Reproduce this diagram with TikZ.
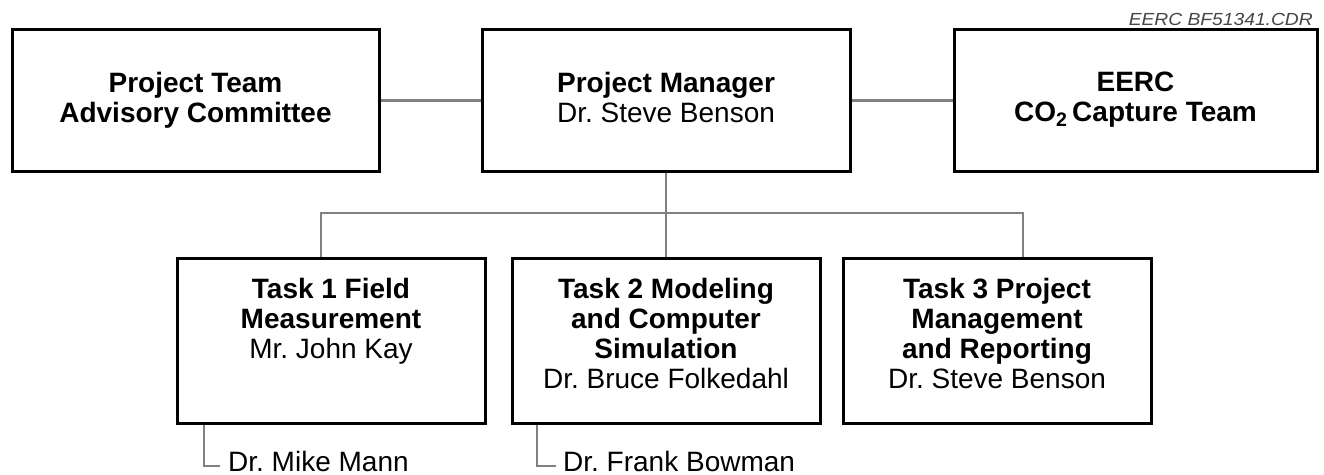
\documentclass[tikz,border=0pt]{standalone}
\usepackage{fontspec}
\setmainfont{Liberation Sans}
\usepackage{graphicx}
\usetikzlibrary{backgrounds}
\definecolor{conngray}{RGB}{128,128,128}
\definecolor{refgray}{RGB}{70,70,70}
\frenchspacing
\begin{document}
\begin{tikzpicture}[x=1pt,y=-1pt,
  topbox/.style={draw=black,line width=3pt,inner sep=0pt,minimum height=142pt},
  taskbox/.style={draw=black,line width=3pt,inner sep=0pt,minimum width=308pt,minimum height=165pt},
  boxtext/.style={anchor=north,inner sep=0pt,align=center,font=\fontsize{28}{30}\selectfont},
  subtext/.style={anchor=base west,inner sep=0pt,font=\fontsize{28}{30}\selectfont},
  conn/.style={draw=conngray,line width=2.8pt}]
\useasboundingbox (0,0) rectangle (1324,474);

% top boxes
\node[topbox,minimum width=367pt] (ptac) at (195.5,100.5) {};
\node[boxtext] (ptactxt) at (195.5,72) {{\bfseries Project Team}\\{\bfseries Advisory Committee}};
\node[topbox,minimum width=368pt] (pm) at (666,100.5) {};
\node[boxtext] (pmtxt) at (666,72) {{\bfseries Project Manager}\\Dr. Steve Benson};
\node[topbox,minimum width=363pt] (eerc) at (1135.5,100.5) {};
\node[boxtext] (eerctxt) at (1135.5,72) {{\bfseries EERC}\\{\bfseries CO\textsubscript{2}\,Capture Team}};

% task boxes
\node[taskbox] (t1) at (331,340.5) {};
\node[boxtext] (t1txt) at (331,278) {{\bfseries Task 1 Field}\\{\bfseries Measurement}\\Mr. John Kay};
\node[taskbox] (t2) at (666,340.5) {};
\node[boxtext] (t2txt) at (666,278) {{\bfseries Task 2 Modeling}\\{\bfseries and Computer}\\{\bfseries Simulation}\\Dr. Bruce Folkedahl};
\node[taskbox] (t3) at (997,340.5) {};
\node[boxtext] (t3txt) at (997,278) {{\bfseries Task 3 Project}\\{\bfseries Management}\\{\bfseries and Reporting}\\Dr. Steve Benson};

% sub labels
\node[subtext] (mike) at (228,471) {Dr. Mike Mann};
\node[subtext] (frank) at (563,471) {Dr. Frank Bowman};

% reference label
\node[anchor=base east,inner sep=0pt,text=refgray,font=\itshape\fontsize{17.5}{20}\selectfont] (ref) at (1313,25.5) {\scalebox{1.1}[1]{EERC BF51341.CDR}};

% connector coordinates
\coordinate (busL) at (321,213);
\coordinate (busM) at (666,213);
\coordinate (busR) at (1023,213);
\coordinate (mk) at (204,466);
\coordinate (mkend) at (220,466);
\coordinate (fb) at (537,466);
\coordinate (fbend) at (556,466);

\begin{scope}[on background layer]
\draw[conn] (ptac.east) -- (pm.west);
\draw[conn] (pm.east) -- (eerc.west);
\draw[conn] (pm.south) -- (busM);
\draw[conn] (busL |- t1.north) -- (busL) -- (busR) -- (busR |- t3.north);
\draw[conn] (busM) -- (t2.north);
\draw[conn] (mk |- t1.south) -- (mk) -- (mkend);
\draw[conn] (fb |- t2.south) -- (fb) -- (fbend);
\end{scope}
\end{tikzpicture}
\end{document}
